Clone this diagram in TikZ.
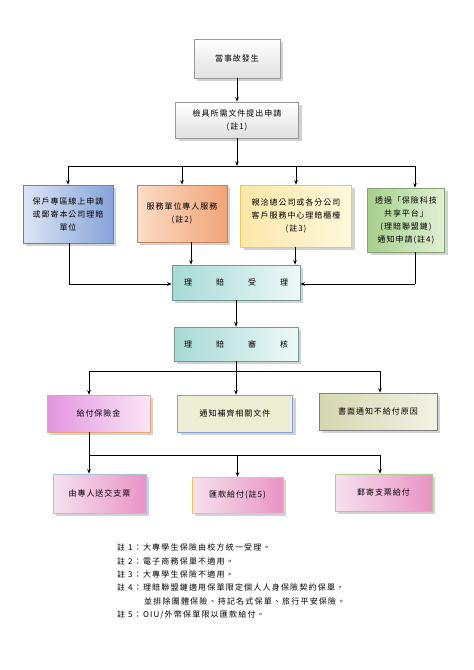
\documentclass[tikz,border=0pt]{standalone}
\usepackage{fontspec}
\newfontfamily\cjk[LetterSpace=12]{Noto Sans CJK TC}
\newfontfamily\cjknote[LetterSpace=15]{Noto Sans CJK TC}
\usetikzlibrary{shadows,arrows.meta}
\definecolor{bluedk}{HTML}{86A3D8}
\definecolor{bluelt}{HTML}{DCE5F5}
\definecolor{orgdk}{HTML}{F1A577}
\definecolor{orglt}{HTML}{FBDCC6}
\definecolor{yeldk}{HTML}{FCE7A8}
\definecolor{yellt}{HTML}{FFF8DC}
\definecolor{yelbd}{HTML}{F2C462}
\definecolor{grndk}{HTML}{A6CF8C}
\definecolor{grnlt}{HTML}{E2F0D6}
\definecolor{tealdk}{HTML}{A5DAD4}
\definecolor{teallt}{HTML}{EEF8F8}
\definecolor{magdk}{HTML}{E294E0}
\definecolor{maglt}{HTML}{FBE6F6}
\definecolor{beige}{HTML}{EDEDD3}
\definecolor{khakidk}{HTML}{D6D6B0}
\definecolor{khakilt}{HTML}{F2F2E4}
\definecolor{pinkdk}{HTML}{E993C4}
\definecolor{pinklt}{HTML}{F6E2EE}
\begin{document}
\begin{tikzpicture}[x=1pt,y=-1pt,
  box/.style={draw, rectangle, inner sep=0pt, align=center,
    font=\cjk\fontsize{8}{13}\selectfont, line width=0.6pt,
    drop shadow={shadow xshift=3pt,shadow yshift=-3pt,fill=black!35}},
  arr/.style={-{Stealth[length=4.5pt,width=3.5pt]}, line width=0.7pt},
  ln/.style={line width=0.7pt}]

\useasboundingbox[fill=white] (0,0) rectangle (474,670);

% top boxes
\node[box, draw=black!40, top color=white, bottom color=black!12,
  minimum width=86pt, minimum height=39pt] (a) at (237,58.5) {當事故發生};
\node[box, draw=black!40, top color=white, bottom color=black!12,
  minimum width=123pt, minimum height=36pt] (b) at (237,120) {檢具所需文件提出申請\\(註1)};

% four channels
\node[box, draw=bluedk!80!black, left color=bluelt, right color=bluedk,
  minimum width=90pt, minimum height=58pt] (c1) at (68,214) {保戶專區線上申請\\或郵寄本公司理賠\\單位};
\node[box, draw=orgdk!80!black, left color=orglt, right color=orgdk,
  minimum width=90pt, minimum height=57pt] (c2) at (182,213.5) {服務單位專人服務\\(註2)};
\node[box, draw=yelbd, left color=yeldk, right color=yellt,
  minimum width=111pt, minimum height=62pt] (c3) at (296,216) {親洽總公司或各分公司\\客戶服務中心理賠櫃檯\\(註3)};
\node[box, draw=grndk!80!black, left color=grndk, right color=grnlt,
  minimum width=77pt, minimum height=64pt] (c4) at (406,220) {透過「保險科技\\共享平台」\\(理賠聯盟鏈)\\通知申請(註4)};

% process
\node[box, draw=tealdk!70!black, left color=tealdk, right color=teallt,
  minimum width=128pt, minimum height=35pt] (d) at (236,282.5) {理\hspace{24pt}賠\hspace{24pt}受\hspace{24pt}理};
\node[box, draw=tealdk!70!black, left color=tealdk, right color=teallt,
  minimum width=124pt, minimum height=34pt] (e) at (236,344) {理\hspace{24pt}賠\hspace{24pt}審\hspace{24pt}核};

% results
\node[box, draw=orgdk, left color=magdk, right color=maglt,
  minimum width=103pt, minimum height=37pt] (f1) at (98.5,413.5) {給付保險金};
\node[box, draw=bluedk, fill=beige,
  minimum width=115pt, minimum height=37pt] (f2) at (235,413.5) {通知補齊相關文件};
\node[box, draw=black!50, left color=khakidk, right color=khakilt,
  minimum width=118pt, minimum height=37pt] (f3) at (378,411.5) {書面通知不給付原因};

% payment
\node[box, draw=bluedk!70, left color=pinklt, right color=pinkdk,
  minimum width=93pt, minimum height=39pt] (g1) at (99.5,493.5) {由專人送交支票};
\node[box, draw=yelbd, left color=pinklt, right color=pinkdk,
  minimum width=91pt, minimum height=36pt] (g2) at (237.5,495) {匯款給付(註5)};
\node[box, draw=grndk, left color=pinklt, right color=pinkdk,
  minimum width=97pt, minimum height=37pt] (g3) at (383.5,492.5) {郵寄支票給付};

% bus coordinates
\coordinate (bus1L) at (68,166);
\coordinate (bus1R) at (415,166);
\coordinate (bus2L) at (89,371);
\coordinate (bus2R) at (380,371);
\coordinate (bus3L) at (89,455);
\coordinate (bus3R) at (380,455);
\coordinate (inL) at (69,284);
\coordinate (inR) at (415,284);
\coordinate (xo) at (191,0);
\coordinate (xy) at (295,0);

% connectors
\draw[arr] (a) -- (b);
\draw[arr] (b.south) -- (b.south |- bus1L);
\draw[ln] (bus1L) -- (bus1R);
\draw[arr] (bus1L) -- (bus1L |- c1.north);
\draw[arr] (c2.north |- bus1L) -- (c2.north);
\draw[arr] (c3.north |- bus1L) -- (c3.north);
\draw[arr] (bus1R) -- (bus1R |- c4.north);

\draw[ln] (inL |- c1.south) -- (inL);
\draw[arr] (inL) -- (d.west |- inL);
\draw[arr] (xo |- c2.south) -- (xo |- d.north);
\draw[arr] (xy |- c3.south) -- (xy |- d.north);
\draw[ln] (inR |- c4.south) -- (inR);
\draw[arr] (inR) -- (d.east |- inR);

\draw[arr] (d) -- (e);
\draw[ln] (e.south) -- (e.south |- bus2L);
\draw[ln] (bus2L) -- (bus2R);
\draw[arr] (bus2L) -- (bus2L |- f1.north);
\draw[arr] (e.south |- bus2L) -- (e.south |- f2.north);
\draw[arr] (bus2R) -- (bus2R |- f3.north);

\draw[ln] (bus3L |- f1.south) -- (bus3L) -- (bus3R);
\draw[arr] (bus3L) -- (bus3L |- g1.north);
\draw[arr] (g2.north |- bus3L) -- (g2.north);
\draw[arr] (bus3R) -- (bus3R |- g3.north);

% notes
\node[anchor=north west, align=left, inner sep=0pt,
  font=\cjknote\fontsize{8}{13.3}\selectfont] (notes) at (117,544) {%
註 1：大專學生保險由校方統一受理。\\
註 2：電子商務保單不適用。\\
註 3：大專學生保險不適用。\\
註 4：理賠聯盟鏈適用保單限定個人人身保險契約保單，\\
\hspace*{27pt}並排除團體保險、持記名式保單、旅行平安保險。\\
註 5：OIU/外幣保單限以匯款給付。};
\end{tikzpicture}
\end{document}
